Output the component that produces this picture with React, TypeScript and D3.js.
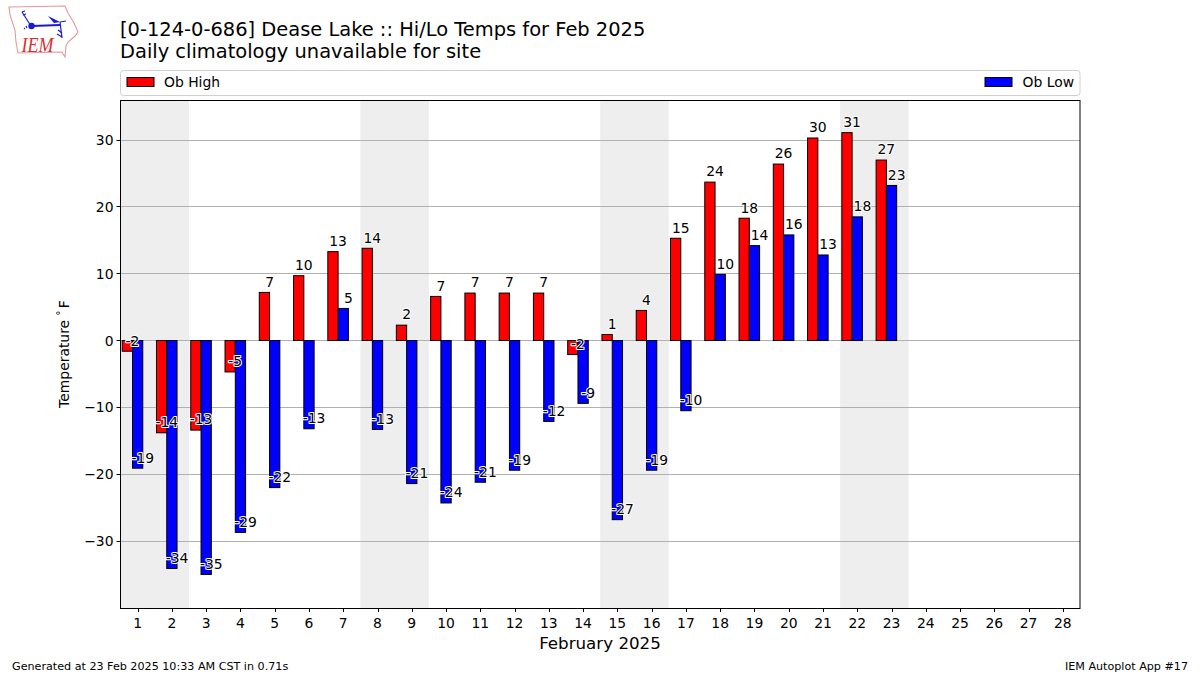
import React from "react";
import * as d3 from "d3";

const days = d3.range(1, 29);
const obHigh = [-1.6,-13.8,-13.4,-4.7,7.2,9.7,13.3,13.8,2.3,6.6,7.1,7.1,7.1,-2.1,0.9,4.5,15.3,23.7,18.3,26.4,30.3,31.1,27];
const obLow = [-19.1,-34.1,-35,-28.7,-22,-13.2,4.8,-13.3,-21.4,-24.3,-21.2,-19.4,-12.1,-9.4,-26.8,-19.4,-10.5,9.9,14.2,15.8,12.8,18.5,23.2];
const highLabels = [-2,-14,-13,-5,7,10,13,14,2,7,7,7,7,-2,1,4,15,24,18,26,30,31,27];
const lowLabels = [-19,-34,-35,-29,-22,-13,5,-13,-21,-24,-21,-19,-12,-9,-27,-19,-10,10,14,16,13,18,23];
const weekends = [[0.5,2.5],[7.5,9.5],[14.5,16.5],[21.5,23.5]];
const yTicks = [-30,-20,-10,0,10,20,30];

const FONT = "'DejaVu Sans', sans-serif";
const L = 120.5, R = 1080, T = 100, B = 608;
const x = d3.scaleLinear().domain([0.5, 28.5]).range([L, R]);
const y = d3.scaleLinear().domain([-40, 36]).range([607.9, 99.9]);
const BAR = 0.3;
const gridY = (t: number) => Math.round(y(t) - 0.5 + 1e-6) + 0.5;

const iowa = d3.line()([[9,7],[65,6],[68,13],[74,23],[78,32],[75,36],[68,42],[66,46],[65,57],[62,52],[18,53],[16,42],[15,30],[10,15]]) + "Z";

function Bars({ vals, color, off }: { vals: number[]; color: string; off: number }) {
  return (
    <g>
      {vals.map((v, i) => {
        const x0 = x(days[i] + off);
        const w = x(BAR) - x(0);
        const yTop = y(Math.max(v, 0));
        const yBot = y(Math.min(v, 0));
        return <rect key={i} x={x0} y={yTop} width={w} height={yBot - yTop} fill={color} stroke="#000" strokeWidth={1} />;
      })}
    </g>
  );
}

function Labels({ vals, labels, off }: { vals: number[]; labels: number[]; off: number }) {
  return (
    <g>
      {vals.map((v, i) => (
        <text key={i} x={x(days[i] + off + BAR)} y={y(v) - 5.7} textAnchor="middle" fontFamily={FONT} fontSize={13.9}
          fill="#000" stroke="#fff" strokeWidth={2} paintOrder="stroke" strokeLinejoin="round">
          {String(labels[i])}
        </text>
      ))}
    </g>
  );
}

export default function App() {
  return (
    <svg width={1200} height={675} style={{ position: "fixed", left: 0, top: 0, display: "block", background: "#fff" }}>
      {/* logo */}
      <g>
        <path d={iowa} fill="#fff" stroke="#e49a9a" strokeWidth={1.1} />
        <g stroke="#1a1ad0" strokeWidth={1.2} fill="none">
          <path d="M22 12L31 26" />
          <path d="M22 12l3 -1M23 15l3 -1" />
          <path d="M32 26L60 25" strokeWidth={1.8} />
          <path d="M60 22L62 38M60 22L66 21" />
          <path d="M58 30L62 33M57 34L62 37" />
          <path d="M24 28l1 1M26 26l1 2" />
        </g>
        <circle cx={31.5} cy={26} r={3.2} fill="#1a1ad0" />
        <path d="M48 16L60 22L54 23Z" fill="#1a1ad0" />
        <text x={21.5} y={52} textLength={32} lengthAdjust="spacingAndGlyphs" fontFamily="'Liberation Serif', serif" fontStyle="italic" fontSize={22} fill="#d83030">IEM</text>
      </g>

      {/* titles */}
      <text x={120} y={36} fontFamily={FONT} fontSize={19.45} fill="#000">[0-124-0-686] Dease Lake :: Hi/Lo Temps for Feb 2025</text>
      <text x={120} y={58} fontFamily={FONT} fontSize={19.45} fill="#000">Daily climatology unavailable for site</text>

      {/* legend */}
      <rect x={120.5} y={70.5} width={959.5} height={25} rx={3} fill="#fff" stroke="#d0d0d0" />
      <rect x={127} y={77.5} width={27} height={9} fill="#f00" stroke="#000" />
      <text x={164} y={86.5} fontFamily={FONT} fontSize={13.9}>Ob High</text>
      <rect x={985} y={77.5} width={27} height={9} fill="#00f" stroke="#000" />
      <text x={1074} y={86.5} textAnchor="end" fontFamily={FONT} fontSize={13.9}>Ob Low</text>

      {/* shading */}
      {weekends.map(([a, b]) => (
        <rect key={a} x={x(a)} y={T} width={x(b) - x(a)} height={B - T} fill="#eeeeee" />
      ))}

      {/* grid */}
      {yTicks.map(t => (
        <line key={t} x1={L} x2={R} y1={gridY(t)} y2={gridY(t)} stroke="#b0b0b0" strokeWidth={1} />
      ))}

      <Bars vals={obHigh} color="#ff0000" off={-0.45} />
      <Bars vals={obLow} color="#0000ff" off={-0.15} />
      <Labels vals={obHigh} labels={highLabels} off={-0.45} />
      <Labels vals={obLow} labels={lowLabels} off={-0.15} />

      {/* frame */}
      <rect x={L} y={T + 0.5} width={R - L} height={B - T} fill="none" stroke="#000" strokeWidth={1} />

      {/* y axis */}
      {yTicks.map(t => (
        <g key={t}>
          <line x1={L - 4} x2={L} y1={gridY(t)} y2={gridY(t)} stroke="#000" />
          <text x={L - 7} y={y(t) + 5} textAnchor="end" fontFamily={FONT} fontSize={13.9}>{String(t).replace("-", "\u2212")}</text>
        </g>
      ))}

      {/* x axis */}
      {days.map(d => (
        <g key={d}>
          <line x1={Math.round(x(d)) + 0.5} x2={Math.round(x(d)) + 0.5} y1={B} y2={B + 4} stroke="#000" />
          <text x={x(d)} y={B + 19.5} textAnchor="middle" fontFamily={FONT} fontSize={13.9}>{d}</text>
        </g>
      ))}

      <text x={600} y={649} textAnchor="middle" fontFamily={FONT} fontSize={16.7}>February 2025</text>
      <text transform="translate(69,354) rotate(-90)" textAnchor="middle" fontFamily={FONT} fontSize={13.9}>
        Temperature <tspan fontSize={9.7} dy={-5}>{"\u00b0"}</tspan><tspan dy={5} dx={2.5}>F</tspan>
      </text>

      <text x={12} y={670} fontFamily={FONT} fontSize={11.15}>Generated at 23 Feb 2025 10:33 AM CST in 0.71s</text>
      <text x={1188} y={670} textAnchor="end" fontFamily={FONT} fontSize={11.15}>IEM Autoplot App #17</text>
    </svg>
  );
}
